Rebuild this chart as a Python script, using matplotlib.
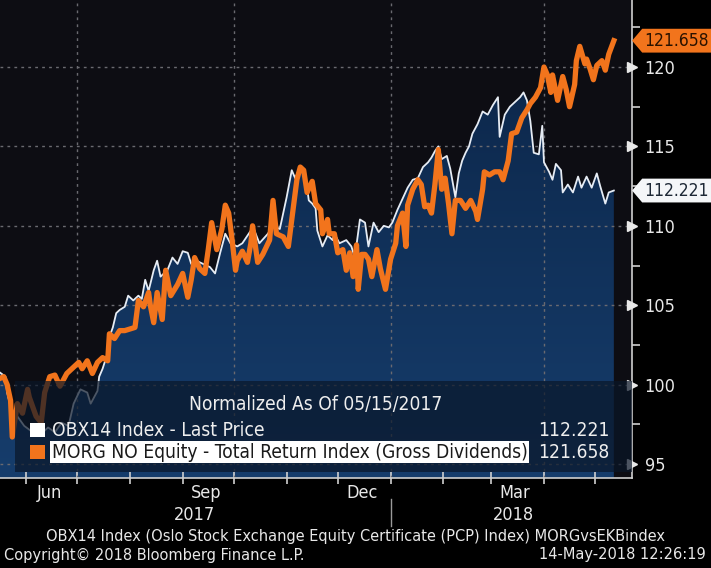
import numpy as np
import pandas as pd
import matplotlib
matplotlib.use("Agg")
import matplotlib.pyplot as plt
import matplotlib.dates as mdates
import matplotlib.transforms as mtransforms
from matplotlib.colors import LinearSegmentedColormap
from matplotlib.patches import Rectangle, Polygon

plt.rcParams['font.family'] = ['DejaVu Sans']
plt.rcParams['font.stretch'] = 'condensed'

# ---- data (days since 2017-05-15, normalized values) ----
start = pd.Timestamp('2017-05-15')

obx_days = [0, 5, 6, 9, 12, 16, 21, 25, 30, 34, 38, 42, 45, 49, 53, 55, 59, 60, 62, 65,
            66, 68, 70, 72, 75, 77, 80, 83, 85, 87, 89, 92, 94, 96, 100, 103, 106, 109, 112, 114,
            117, 121, 125, 128, 131, 134, 137, 141, 144, 149, 150, 154, 159, 162, 166, 170, 173, 175, 178, 181,
            183, 185, 187, 188, 191, 194, 197, 198, 201, 205, 208, 210, 213, 216, 218, 221, 224, 227, 230, 232,
            235, 238, 241, 244, 247, 250, 253, 255, 257, 259, 261, 264, 266, 269, 271, 273, 275, 277, 279, 281,
            282, 285, 288, 291, 294, 295, 298, 301, 304, 307, 309, 311, 313, 315, 318, 320, 321, 324, 326, 328,
            331, 332, 335, 338, 341, 343, 346, 349, 352, 354, 357, 359, 362]
obx_vals = [100.9, 100.5, 99.5, 98.2, 98.0, 97.4, 97.0, 96.8, 97.3, 97.0, 97.6, 97.4, 98.8, 99.7, 99.5, 98.8, 99.6, 100.5, 101.0, 102.0,
            103.0, 103.6, 104.5, 104.7, 104.9, 105.6, 105.3, 105.6, 105.4, 106.6, 105.9, 107.2, 107.8, 106.8, 107.2, 108.0, 107.6, 108.4, 108.3, 107.6,
            107.8, 107.6, 107.4, 107.0, 108.3, 109.5, 108.9, 108.7, 108.9, 109.7, 110.0, 108.9, 109.5, 110.0, 109.8, 111.8, 113.5, 113.0, 113.7, 113.2,
            111.6, 111.4, 111.1, 109.7, 108.7, 109.4, 109.1, 109.5, 108.9, 109.1, 108.7, 108.0, 110.4, 110.2, 108.7, 110.2, 109.6, 110.0, 109.9, 110.2,
            111.0, 111.7, 112.4, 112.9, 113.0, 113.7, 114.0, 114.3, 114.7, 115.0, 114.2, 114.4, 113.6, 111.8, 113.3, 114.1, 114.6, 115.0, 115.8, 116.2,
            116.4, 117.2, 117.0, 117.6, 118.1, 115.6, 117.0, 117.5, 117.8, 118.1, 118.4, 117.9, 116.6, 114.6, 114.5, 116.3, 114.0, 113.4, 112.9, 113.9,
            113.5, 112.1, 112.6, 112.1, 113.1, 112.4, 113.1, 112.4, 113.3, 112.5, 111.4, 112.1, 112.221]

morg_days = [0, 4, 6, 8, 9, 12, 15, 18, 19, 23, 26, 28, 31, 34, 37, 41, 44, 48, 50, 53,
             56, 59, 62, 65, 66, 69, 72, 75, 78, 81, 83, 86, 89, 90, 92, 94, 97, 99, 102, 106,
             109, 112, 114, 116, 119, 122, 124, 126, 129, 132, 134, 136, 138, 140, 141, 144, 147, 149, 150, 153,
             156, 160, 162, 164, 168, 171, 174, 176, 178, 180, 182, 185, 187, 190, 191, 194, 195, 198, 200, 203,
             205, 207, 209, 211, 212, 214, 216, 218, 220, 223, 225, 228, 231, 234, 235, 238, 240, 241, 244, 247,
             249, 251, 253, 255, 257, 259, 261, 263, 265, 267, 269, 272, 275, 278, 281, 282, 285, 286, 289, 292,
             295, 297, 300, 302, 305, 308, 311, 313, 316, 319, 321, 323, 325, 326, 329, 332, 334, 336, 339, 340,
             342, 345, 346, 348, 350, 352, 355, 357, 359, 362]
morg_vals = [100.3, 100.5, 100.0, 99.0, 96.7, 98.8, 98.2, 99.7, 99.2, 98.0, 97.6, 99.5, 100.5, 100.6, 99.9, 100.7, 101.0, 101.4, 101.0, 101.5,
             100.7, 101.4, 101.7, 101.5, 103.2, 102.9, 103.4, 103.4, 103.5, 103.6, 105.3, 104.9, 105.8, 105.0, 103.9, 105.8, 104.1, 107.2, 105.6, 106.3,
             107.0, 105.5, 106.6, 108.0, 107.3, 107.0, 108.5, 110.2, 108.5, 109.8, 111.3, 110.8, 109.1, 107.2, 107.8, 108.4, 107.7, 108.9, 110.0, 107.7,
             108.2, 109.1, 111.6, 109.5, 109.3, 108.7, 111.2, 112.9, 113.7, 113.5, 112.1, 112.8, 111.4, 111.0, 109.5, 110.4, 109.5, 109.5, 108.3, 108.5,
             107.2, 108.3, 106.8, 108.8, 106.0, 108.2, 108.2, 107.9, 106.8, 108.5, 107.3, 106.0, 107.9, 108.9, 110.0, 110.8, 108.7, 111.3, 112.3, 112.9,
             112.6, 111.2, 111.3, 110.8, 112.6, 114.8, 112.3, 113.0, 111.4, 109.5, 111.6, 111.6, 111.1, 111.6, 110.9, 110.4, 112.3, 113.4, 113.2, 113.4,
             113.4, 112.9, 114.1, 115.8, 115.9, 116.8, 117.3, 117.7, 118.1, 118.7, 120.0, 119.5, 118.4, 119.5, 117.9, 119.4, 118.6, 117.5, 118.9, 120.4,
             121.3, 120.2, 120.5, 119.9, 119.2, 120.1, 120.4, 119.8, 120.8, 121.658]

obx_last = 112.221
morg_last = 121.658
obx_label = 'OBX14 Index - Last Price'
morg_label = 'MORG NO Equity - Total Return Index (Gross Dividends)'

obx_dates = start + pd.to_timedelta(obx_days, unit='D')
morg_dates = start + pd.to_timedelta(morg_days, unit='D')

orange = '#f2741c'
txtc = '#e8e8e8'
ybot, ytop = 94.12, 124.22
xmin = start + pd.Timedelta(days=1.8)
xmax = start + pd.Timedelta(days=372.7)

fig = plt.figure(figsize=(7.11, 5.68), dpi=100, facecolor='black')
ax = fig.add_axes([0, 0.1585, 0.889, 0.8415])
ax.set_facecolor('#0d0d13')
ax.set_xlim(xmin, xmax)
ax.set_ylim(ybot, ytop)

# gradient area under OBX line
poly = ax.fill_between(obx_dates, obx_vals, ybot, color='none', lw=0)
cmap = LinearSegmentedColormap.from_list('area', ['#0b2446', '#163d6c'])
grad = np.linspace(0, 1, 256).reshape(-1, 1)
x0n, x1n = mdates.date2num(xmin), mdates.date2num(xmax)
img = ax.imshow(grad, cmap=cmap, extent=[x0n, x1n, ybot, ytop], origin='upper',
                aspect='auto', zorder=1)
img.set_clip_path(poly.get_paths()[0], transform=ax.transData)

# grid
for v in [95, 100, 105, 110, 115, 120]:
    ax.axhline(v, color='#6a6a70', lw=1, ls=(0, (2, 3)), zorder=2)
for d in ['2017-07-01', '2017-10-01', '2018-01-01', '2018-04-01']:
    ax.axvline(pd.Timestamp(d), color='#6a6a70', lw=1, ls=(0, (2, 3)), zorder=2)

ax.plot(obx_dates, obx_vals, color='#e6ecf4', lw=1.3, zorder=3)
ax.plot(morg_dates, morg_vals, color=orange, lw=3.8, zorder=4, solid_joinstyle='round')

# spines / ticks
for s in ['top', 'left']:
    ax.spines[s].set_visible(False)
for s in ['right', 'bottom']:
    ax.spines[s].set_color('#cfcfcf')
    ax.spines[s].set_linewidth(1.2)

ax.yaxis.tick_right()
ax.set_yticks([95, 100, 105, 110, 115, 120])
ax.set_yticks([97.5, 102.5, 107.5, 112.5, 117.5, 122.5], minor=True)
ax.tick_params(axis='y', which='major', length=0, pad=9, labelsize=13, labelcolor=txtc)
ax.tick_params(axis='y', which='minor', length=6, width=1.2, color='#cfcfcf')
trans_y = mtransforms.blended_transform_factory(ax.transAxes, ax.transData)
ax.plot([1.0] * 6, [95, 100, 105, 110, 115, 120], ls='none', marker='>', ms=7,
        color=txtc, transform=trans_y, clip_on=False, zorder=6)

ax.xaxis.set_minor_locator(mdates.MonthLocator())
ax.set_xticks([pd.Timestamp(d) for d in ['2017-06-15', '2017-09-15', '2017-12-15', '2018-03-15']])
ax.set_xticklabels(['Jun', 'Sep', 'Dec', 'Mar'])
ax.tick_params(axis='x', which='major', length=0, pad=4, labelsize=13, labelcolor=txtc)
ax.tick_params(axis='x', which='minor', length=8, width=1.2, direction='inout', color='#cfcfcf')

trans_x = mtransforms.blended_transform_factory(ax.transData, ax.transAxes)
ax.text(pd.Timestamp('2017-09-08'), -0.078, '2017', transform=trans_x, ha='center', va='center',
        color=txtc, fontsize=13)
ax.text(pd.Timestamp('2018-03-14'), -0.078, '2018', transform=trans_x, ha='center', va='center',
        color=txtc, fontsize=13)
ax.plot([pd.Timestamp('2018-01-01')] * 2, [-0.045, -0.1], color='#9a9a9a', lw=1,
        transform=trans_x, clip_on=False)

# value tags on the right
def tag(v, face, tc):
    h = 0.75
    pts = [(1.0, v), (1.016, v + h), (1.13, v + h), (1.13, v - h), (1.016, v - h)]
    ax.add_patch(Polygon(pts, closed=True, facecolor=face, edgecolor='none',
                         transform=trans_y, clip_on=False, zorder=7))
    ax.text(1.02, v, f'{v:.3f}', transform=trans_y, ha='left', va='center',
            fontsize=12.5, color=tc, zorder=8, clip_on=False)

tag(morg_last, orange, '#2a1200')
tag(obx_last, '#f4f6f8', '#1d2835')

# legend box
lfs = 13.8
ax.add_patch(Rectangle((0.024, 0.013), 0.976, 0.19, transform=ax.transAxes,
                       facecolor='#0a1628', alpha=0.7, edgecolor='none', zorder=9))
ax.text(0.50, 0.153, 'Normalized As Of 05/15/2017', transform=ax.transAxes, ha='center',
        va='center', fontsize=lfs, color='#eeeeee', zorder=10)
ax.add_patch(Rectangle((0.047, 0.085), 0.024, 0.031, transform=ax.transAxes,
                       facecolor='white', edgecolor='none', zorder=10))
ax.add_patch(Rectangle((0.047, 0.039), 0.024, 0.031, transform=ax.transAxes,
                       facecolor=orange, edgecolor='none', zorder=10))
ax.text(0.082, 0.100, obx_label, transform=ax.transAxes, ha='left', va='center',
        fontsize=lfs, color='#eeeeee', zorder=10)
ax.text(0.082, 0.054, morg_label, transform=ax.transAxes, ha='left', va='center',
        fontsize=lfs, color='#1a1a1a', zorder=10,
        bbox=dict(facecolor='white', edgecolor='none', pad=1.0))
ax.text(0.964, 0.100, f'{obx_last:.3f}', transform=ax.transAxes, ha='right', va='center',
        fontsize=lfs, color='#eeeeee', zorder=10)
ax.text(0.964, 0.054, f'{morg_last:.3f}', transform=ax.transAxes, ha='right', va='center',
        fontsize=lfs, color='#eeeeee', zorder=10)

# footer
fig.text(0.50, 1 - 536 / 568, 'OBX14 Index (Oslo Stock Exchange Equity Certificate (PCP) Index) MORGvsEKBindex',
         ha='center', va='center', fontsize=11.7, color=txtc)
fig.text(0.005, 1 - 555 / 568, 'Copyright\u00a9 2018 Bloomberg Finance L.P.', ha='left', va='center',
         fontsize=11.7, color=txtc)
fig.text(0.992, 1 - 555 / 568, '14-May-2018 12:26:19', ha='right', va='center',
         fontsize=11.7, color=txtc)

fig.savefig('out.png', dpi=100, facecolor='black')
